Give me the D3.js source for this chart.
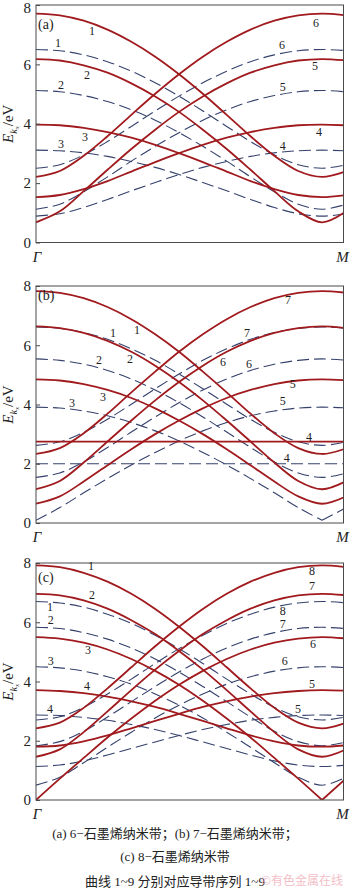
<!DOCTYPE html>
<html>
<head>
<meta charset="utf-8">
<script src="https://cdn.jsdelivr.net/npm/d3@7"></script>
<style>
  html, body { margin: 0; padding: 0; background: #fff; }
  svg { display: block; }
</style>
</head>
<body>
<script>
// Wave vector along Γ→M, in units of π/a (Γ = 0, M = 1.075)
const kGrid = [0, 0.0833, 0.1667, 0.25, 0.3333, 0.4167, 0.5, 0.5833, 0.6667, 0.75, 0.8333, 0.9167, 1, 1.075];
const yTicks = [0, 2, 4, 6, 8];
const endLabels = ["Γ", "M"];

// (a) 6-GNR: conduction bands 1..6 (solid / dashed model), energies in eV
const solidA = [
  [7.71, 7.65, 7.47, 7.17, 6.76, 6.26, 5.67, 5.01, 4.30, 3.58, 2.92, 2.41, 2.21, 2.37],
  [6.18, 6.13, 5.97, 5.72, 5.36, 4.92, 4.40, 3.80, 3.15, 2.45, 1.73, 1.05, 0.68, 0.99],
  [3.97, 3.95, 3.86, 3.72, 3.53, 3.29, 3.01, 2.71, 2.39, 2.07, 1.80, 1.60, 1.53, 1.59],
  [1.53, 1.60, 1.80, 2.07, 2.39, 2.71, 3.01, 3.29, 3.53, 3.72, 3.86, 3.95, 3.97, 3.95],
  [0.68, 1.05, 1.73, 2.45, 3.15, 3.80, 4.40, 4.92, 5.36, 5.72, 5.97, 6.13, 6.18, 6.14],
  [2.21, 2.41, 2.92, 3.58, 4.30, 5.01, 5.67, 6.26, 6.76, 7.17, 7.47, 7.65, 7.71, 7.66]
];
const dashedA = [
  [6.50, 6.46, 6.32, 6.09, 5.77, 5.38, 4.93, 4.43, 3.91, 3.40, 2.95, 2.62, 2.50, 2.60],
  [5.12, 5.08, 4.95, 4.75, 4.47, 4.12, 3.70, 3.24, 2.74, 2.21, 1.71, 1.29, 1.12, 1.26],
  [3.11, 3.09, 3.02, 2.90, 2.73, 2.53, 2.29, 2.02, 1.74, 1.45, 1.18, 0.97, 0.89, 0.95],
  [0.89, 0.97, 1.18, 1.45, 1.74, 2.02, 2.29, 2.53, 2.73, 2.90, 3.02, 3.09, 3.11, 3.09],
  [1.12, 1.29, 1.71, 2.21, 2.74, 3.24, 3.70, 4.12, 4.47, 4.75, 4.95, 5.08, 5.12, 5.08],
  [2.50, 2.62, 2.95, 3.40, 3.91, 4.43, 4.93, 5.38, 5.77, 6.09, 6.32, 6.46, 6.50, 6.47]
];

// (b) 7-GNR: bands 1..7
const solidB = [
  [7.83, 7.77, 7.59, 7.29, 6.88, 6.37, 5.78, 5.11, 4.41, 3.69, 3.03, 2.53, 2.33, 2.49],
  [6.64, 6.58, 6.42, 6.15, 5.78, 5.31, 4.76, 4.14, 3.46, 2.75, 2.04, 1.42, 1.14, 1.37],
  [4.85, 4.81, 4.69, 4.49, 4.22, 3.87, 3.46, 3.00, 2.49, 1.95, 1.40, 0.90, 0.65, 0.86],
  [2.75, 2.75, 2.75, 2.75, 2.75, 2.75, 2.75, 2.75, 2.75, 2.75, 2.75, 2.75, 2.75, 2.75],
  [0.65, 0.90, 1.40, 1.95, 2.49, 3.00, 3.46, 3.87, 4.22, 4.49, 4.69, 4.81, 4.85, 4.82],
  [1.14, 1.42, 2.04, 2.75, 3.46, 4.14, 4.76, 5.31, 5.78, 6.15, 6.42, 6.58, 6.64, 6.59],
  [2.33, 2.53, 3.03, 3.69, 4.41, 5.11, 5.78, 6.37, 6.88, 7.29, 7.59, 7.77, 7.83, 7.78]
];
const dashedB = [
  [6.62, 6.57, 6.43, 6.20, 5.88, 5.49, 5.03, 4.53, 4.01, 3.50, 3.06, 2.74, 2.62, 2.72],
  [5.54, 5.49, 5.36, 5.15, 4.86, 4.49, 4.06, 3.58, 3.07, 2.55, 2.06, 1.69, 1.54, 1.66],
  [3.91, 3.88, 3.78, 3.62, 3.39, 3.11, 2.77, 2.38, 1.96, 1.50, 1.02, 0.52, 0.09, 0.47],
  [2.00, 2.00, 2.00, 2.00, 2.00, 2.00, 2.00, 2.00, 2.00, 2.00, 2.00, 2.00, 2.00, 2.00],
  [0.09, 0.52, 1.02, 1.50, 1.96, 2.38, 2.77, 3.11, 3.39, 3.62, 3.78, 3.88, 3.91, 3.89],
  [1.54, 1.69, 2.06, 2.55, 3.07, 3.58, 4.06, 4.49, 4.86, 5.15, 5.36, 5.49, 5.54, 5.50],
  [2.62, 2.74, 3.06, 3.50, 4.01, 4.53, 5.03, 5.49, 5.88, 6.20, 6.43, 6.57, 6.62, 6.58]
];

// (c) 8-GNR: bands 1..8
const solidC = [
  [7.92, 7.86, 7.67, 7.37, 6.96, 6.45, 5.85, 5.19, 4.48, 3.77, 3.11, 2.61, 2.42, 2.58],
  [6.96, 6.91, 6.74, 6.46, 6.07, 5.60, 5.03, 4.40, 3.71, 2.99, 2.29, 1.71, 1.46, 1.67],
  [5.50, 5.45, 5.31, 5.08, 4.76, 4.36, 3.89, 3.35, 2.75, 2.11, 1.42, 0.72, 0.00, 0.65],
  [3.71, 3.68, 3.61, 3.49, 3.33, 3.14, 2.91, 2.67, 2.42, 2.18, 1.98, 1.84, 1.80, 1.84],
  [1.80, 1.84, 1.98, 2.18, 2.42, 2.67, 2.91, 3.14, 3.33, 3.49, 3.61, 3.68, 3.71, 3.69],
  [0.00, 0.72, 1.42, 2.11, 2.75, 3.35, 3.89, 4.36, 4.76, 5.08, 5.31, 5.45, 5.50, 5.46],
  [1.46, 1.71, 2.29, 2.99, 3.71, 4.40, 5.03, 5.60, 6.07, 6.46, 6.74, 6.91, 6.96, 6.92],
  [2.42, 2.61, 3.11, 3.77, 4.48, 5.19, 5.85, 6.45, 6.96, 7.37, 7.67, 7.86, 7.92, 7.87]
];
const dashedC = [
  [6.70, 6.65, 6.51, 6.27, 5.96, 5.56, 5.11, 4.61, 4.08, 3.58, 3.13, 2.81, 2.70, 2.79],
  [5.83, 5.79, 5.65, 5.43, 5.13, 4.76, 4.32, 3.83, 3.32, 2.80, 2.32, 1.97, 1.83, 1.94],
  [4.50, 4.46, 4.35, 4.16, 3.91, 3.58, 3.20, 2.77, 2.29, 1.78, 1.26, 0.77, 0.50, 0.73],
  [2.87, 2.85, 2.79, 2.69, 2.55, 2.38, 2.18, 1.96, 1.74, 1.52, 1.32, 1.18, 1.13, 1.17],
  [1.13, 1.18, 1.32, 1.52, 1.74, 1.96, 2.18, 2.38, 2.55, 2.69, 2.79, 2.85, 2.87, 2.85],
  [0.50, 0.77, 1.26, 1.78, 2.29, 2.77, 3.20, 3.58, 3.91, 4.16, 4.35, 4.46, 4.50, 4.47],
  [1.83, 1.97, 2.32, 2.80, 3.32, 3.83, 4.32, 4.76, 5.13, 5.43, 5.65, 5.79, 5.83, 5.79],
  [2.70, 2.81, 3.13, 3.58, 4.08, 4.61, 5.11, 5.56, 5.96, 6.27, 6.51, 6.65, 6.70, 6.66]
];

// Band-index labels: [text, k, E]
const labSolidA = [["1",0.196,7.12],["2",0.178,5.64],["3",0.171,3.55],["6",0.979,7.39],["5",0.975,5.94],["4",0.989,3.72]];
const labDashedA = [["1",0.077,6.72],["2",0.087,5.30],["3",0.087,3.32],["6",0.860,6.65],["5",0.863,5.24],["4",0.863,3.25]];
const labSolidB = [["1",0.353,6.51],["2",0.329,5.53],["3",0.234,4.25],["7",0.881,7.53],["6",0.654,5.43],["5",0.898,4.69],["4",0.954,2.90]];
const labDashedB = [["1",0.269,6.41],["2",0.220,5.50],["3",0.126,4.05],["7",0.738,6.41],["6",0.745,5.37],["5",0.863,4.12],["4",0.877,2.19]];
const labSolidC = [["1",0.192,7.90],["2",0.196,6.92],["3",0.182,5.06],["4",0.178,3.85],["8",0.965,7.73],["7",0.965,7.22],["6",0.968,5.26],["5",0.965,3.91]];
const labDashedC = [["1",0.049,6.51],["2",0.052,6.07],["3",0.052,4.69],["4",0.049,3.07],["8",0.863,6.38],["7",0.863,5.94],["6",0.870,4.69],["5",0.916,3.07]];

const captionLines = [
  "(a) 6−石墨烯纳米带；(b) 7−石墨烯纳米带；",
  "(c) 8−石墨烯纳米带",
  "曲线 1~9 分别对应导带序列 1~9"
];
const watermark = "©有色金属在线";

// ---------------------------------------------------------------
const W = 350, H = 891;
const X0 = 36, X1 = 343.5;
const SERIF = "'Liberation Serif','Times New Roman',serif";
const CJK = "'Liberation Serif','Noto Sans CJK SC',serif";
const RED = "#a01a1e", BLUE = "#35416c";

const panels = [
  { tag: "(a)", top: 5,   bottom: 242.5, tagY: 24,  solid: solidA, dashed: dashedA, ls: labSolidA, ld: labDashedA },
  { tag: "(b)", top: 286, bottom: 523,   tagY: 295, solid: solidB, dashed: dashedB, ls: labSolidB, ld: labDashedB },
  { tag: "(c)", top: 563, bottom: 800,   tagY: 577, solid: solidC, dashed: dashedC, ls: labSolidC, ld: labDashedC }
];

const svg = d3.select("body").append("svg")
  .attr("width", W).attr("height", H)
  .attr("viewBox", `0 0 ${W} ${H}`);

const x = d3.scaleLinear().domain([0, 1.075]).range([X0, X1]);

// split a band at an interior point where it touches (nearly) zero, so the cusp stays sharp
function segments(vals) {
  const pts = vals.map((v, i) => [kGrid[i], v]);
  const cuts = [0];
  for (let i = 1; i < vals.length - 1; i++) {
    if (vals[i] < 0.2 && vals[i] < vals[i - 1] && vals[i] < vals[i + 1]) cuts.push(i);
  }
  cuts.push(vals.length - 1);
  const segs = [];
  for (let c = 0; c < cuts.length - 1; c++) segs.push(pts.slice(cuts[c], cuts[c + 1] + 1));
  return segs;
}

panels.forEach((p, pi) => {
  const y = d3.scaleLinear().domain([0, 8]).range([p.bottom, p.top]);
  const g = svg.append("g");

  const clipId = "clip" + pi;
  svg.append("clipPath").attr("id", clipId)
    .append("rect").attr("x", X0).attr("y", p.top)
    .attr("width", X1 - X0).attr("height", p.bottom - p.top);

  const line = d3.line()
    .x(d => x(d[0])).y(d => y(d[1]))
    .curve(d3.curveCatmullRom.alpha(0.5));

  const plot = g.append("g").attr("clip-path", `url(#${clipId})`);

  // dashed model bands
  p.dashed.forEach(vals => {
    segments(vals).forEach(seg => {
      plot.append("path").attr("d", line(seg))
        .attr("fill", "none").attr("stroke", BLUE)
        .attr("stroke-width", 1.1).attr("stroke-dasharray", "12,5");
    });
  });
  // solid bands
  p.solid.forEach(vals => {
    segments(vals).forEach(seg => {
      plot.append("path").attr("d", line(seg))
        .attr("fill", "none").attr("stroke", RED)
        .attr("stroke-width", 1.8).attr("stroke-linejoin", "round");
    });
  });

  // frame
  g.append("rect").attr("x", X0).attr("y", p.top)
    .attr("width", X1 - X0).attr("height", p.bottom - p.top)
    .attr("fill", "none").attr("stroke", "#4a4a4a").attr("stroke-width", 1);

  // y axis
  const yAxis = d3.axisLeft(y).tickValues(yTicks).tickFormat(d3.format("d"))
    .tickSizeInner(-4).tickSizeOuter(0).tickPadding(5);
  const ga = g.append("g").attr("transform", `translate(${X0},0)`).call(yAxis);
  ga.select(".domain").remove();
  ga.selectAll(".tick line").attr("stroke", "#4a4a4a");
  ga.selectAll(".tick text").attr("font-family", SERIF).attr("font-size", 15).attr("fill", "#222");
  // keep the topmost tick label of the first panel inside the page
  if (pi === 0) ga.selectAll(".tick text").filter(d => d === 8).attr("dy", "0.5em");

  // y title: E_{k_x}/eV
  const yt = g.append("text")
    .attr("transform", `translate(13,${(p.top + p.bottom) / 2}) rotate(-90)`)
    .attr("text-anchor", "middle").attr("font-family", SERIF)
    .attr("font-size", 15).attr("fill", "#222");
  yt.append("tspan").attr("font-style", "italic").text("E");
  yt.append("tspan").attr("font-style", "italic").attr("font-size", 10).attr("dy", 4).text("k");
  yt.append("tspan").attr("font-style", "italic").attr("font-size", 7).attr("dy", 2).text("x");
  yt.append("tspan").attr("dy", -6).text("/eV");

  // Γ and M
  g.append("text").attr("x", X0 + 1).attr("y", p.bottom + 19)
    .attr("text-anchor", "middle").attr("font-family", SERIF).attr("font-style", "italic")
    .attr("font-size", 15).attr("fill", "#222").text(endLabels[0]);
  g.append("text").attr("x", X1 - 1).attr("y", p.bottom + 19)
    .attr("text-anchor", "middle").attr("font-family", SERIF).attr("font-style", "italic")
    .attr("font-size", 15).attr("fill", "#222").text(endLabels[1]);

  // panel tag
  g.append("text").attr("x", X0 + 2).attr("y", p.tagY).attr("dy", "0.35em")
    .attr("font-family", SERIF).attr("font-size", 14).attr("fill", "#222").text(p.tag);

  // band-index labels
  p.ls.concat(p.ld).forEach(([t, k, e]) => {
    g.append("text").attr("x", x(k)).attr("y", y(e)).attr("dy", "0.35em")
      .attr("text-anchor", "middle").attr("font-family", SERIF)
      .attr("font-size", 12).attr("fill", "#222").text(t);
  });
});

// caption
const capY = [833, 856, 881];
captionLines.forEach((t, i) => {
  svg.append("text").attr("x", 175).attr("y", capY[i]).attr("dy", "0.35em")
    .attr("text-anchor", "middle").attr("font-family", CJK)
    .attr("font-size", 13).attr("fill", "#222").text(t);
});
svg.append("text").attr("x", 343).attr("y", 881).attr("dy", "0.35em")
  .attr("text-anchor", "end").attr("font-family", "'Noto Sans CJK SC',sans-serif")
  .attr("font-size", 12).attr("fill", "#f1b9c2").attr("opacity", 0.9).text(watermark);
</script>
</body>
</html>
